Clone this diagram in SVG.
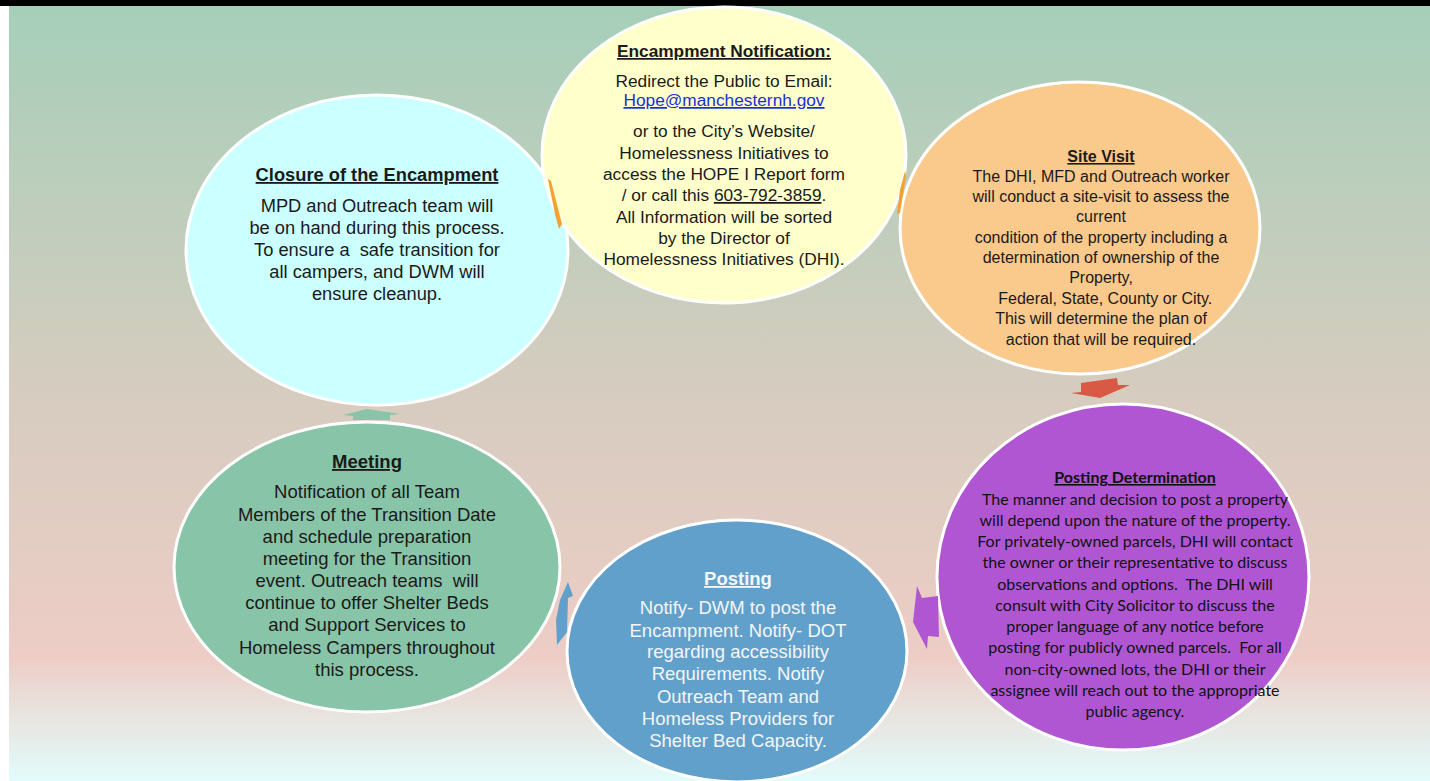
<svg xmlns="http://www.w3.org/2000/svg" width="1430" height="781" viewBox="0 0 1430 781">
<defs>
<linearGradient id="bg" x1="0" y1="0" x2="0" y2="1">
<stop offset="0" stop-color="#a5cfb9"/>
<stop offset="0.5" stop-color="#d6ccbf"/>
<stop offset="0.84" stop-color="#edcdc6"/>
<stop offset="0.92" stop-color="#e8e5e0"/>
<stop offset="1" stop-color="#e2fcfc"/>
</linearGradient>
<style>
.node{stroke:#ffffff;stroke-width:3}
.t{font-family:"Liberation Sans",Arial,sans-serif;fill:#1a1a1a;text-anchor:middle}
.c{font-family:Lato,"Liberation Sans",sans-serif;fill:#111111;text-anchor:middle;font-size:16px}
.h{font-weight:bold;text-decoration:underline}
.w{fill:#f4f6f8}
</style>
</defs>
<rect x="0" y="0" width="1430" height="781" fill="#ffffff"/>
<rect x="9" y="6" width="1421" height="775" fill="url(#bg)"/>
<rect x="0" y="0" width="1430" height="6" fill="#000000"/>

<g id="closure">
<ellipse class="node" cx="377" cy="250" rx="191" ry="155" fill="#ccffff"/>
<text class="t" font-size="18.3" xml:space="preserve"><tspan class="h" x="377" y="181">Closure of the Encampment</tspan><tspan x="377" y="212">MPD and Outreach team will</tspan><tspan x="377" y="234">be on hand during this process.</tspan><tspan x="377" y="256">To ensure a  safe transition for</tspan><tspan x="377" y="278">all campers, and DWM will</tspan><tspan x="377" y="300">ensure cleanup.</tspan></text>
</g>

<g id="encampment-notification">
<ellipse class="node" cx="724" cy="155" rx="182" ry="148" fill="#ffffcc"/>
<text class="t" font-size="17.3"><tspan class="h" x="724" y="57">Encampment Notification:</tspan><tspan x="724" y="87">Redirect the Public to Email:</tspan><tspan x="724" y="106" fill="#1c2fd8" text-decoration="underline">Hope@manchesternh.gov</tspan><tspan x="724" y="137">or to the City’s Website/</tspan><tspan x="724" y="159">Homelessness Initiatives to</tspan><tspan x="724" y="180">access the HOPE I Report form</tspan><tspan x="724" y="201">/ or call this <tspan text-decoration="underline">603-792-3859</tspan>.</tspan><tspan x="724" y="223">All Information will be sorted</tspan><tspan x="724" y="244">by the Director of</tspan><tspan x="724" y="265">Homelessness Initiatives (DHI).</tspan></text>
</g>

<g id="site-visit">
<ellipse class="node" cx="1080" cy="228" rx="180" ry="146" fill="#fac98c"/>
<text class="t" font-size="16"><tspan class="h" x="1101" y="162">Site Visit</tspan><tspan x="1101" y="182">The DHI, MFD and Outreach worker</tspan><tspan x="1101" y="202">will conduct a site-visit to assess the</tspan><tspan x="1101" y="222">current</tspan><tspan x="1101" y="243">condition of the property including a</tspan><tspan x="1101" y="263">determination of ownership of the</tspan><tspan x="1101" y="283">Property,</tspan><tspan x="1103" y="304"> Federal, State, County or City.</tspan><tspan x="1101" y="324">This will determine the plan of</tspan><tspan x="1101" y="345">action that will be required.</tspan></text>
</g>

<g id="posting-determination">
<ellipse class="node" cx="1123" cy="577" rx="186" ry="173" fill="#b056d2"/>
<text class="c" xml:space="preserve"><tspan class="h" x="1135" y="483">Posting Determination</tspan><tspan x="1135" y="505">The manner and decision to post a property</tspan><tspan x="1135" y="526">will depend upon the nature of the property.</tspan><tspan x="1135" y="547">For privately-owned parcels, DHI will contact</tspan><tspan x="1135" y="568">the owner or their representative to discuss</tspan><tspan x="1135" y="590">observations and options.  The DHI will</tspan><tspan x="1135" y="611">consult with City Solicitor to discuss the</tspan><tspan x="1135" y="632">proper language of any notice before</tspan><tspan x="1135" y="653">posting for publicly owned parcels.  For all</tspan><tspan x="1135" y="675">non-city-owned lots, the DHI or their</tspan><tspan x="1135" y="696">assignee will reach out to the appropriate</tspan><tspan x="1135" y="717">public agency.</tspan></text>
</g>

<g id="posting">
<ellipse class="node" cx="737" cy="651" rx="170" ry="131" fill="#62a0cc"/>
<text class="t w" font-size="18.5"><tspan class="h" x="738" y="585">Posting</tspan><tspan x="738" y="614">Notify- DWM to post the</tspan><tspan x="738" y="637">Encampment. Notify- DOT</tspan><tspan x="738" y="658">regarding accessibility</tspan><tspan x="738" y="680">Requirements. Notify</tspan><tspan x="738" y="703">Outreach Team and</tspan><tspan x="738" y="725">Homeless Providers for</tspan><tspan x="738" y="747">Shelter Bed Capacity.</tspan></text>
</g>

<g id="meeting">
<ellipse class="node" cx="367" cy="567" rx="193" ry="145" fill="#88c5a8"/>
<text class="t" font-size="18.5" xml:space="preserve"><tspan class="h" x="367" y="468">Meeting</tspan><tspan x="367" y="498">Notification of all Team</tspan><tspan x="367" y="521">Members of the Transition Date</tspan><tspan x="367" y="543">and schedule preparation</tspan><tspan x="367" y="565">meeting for the Transition</tspan><tspan x="367" y="587">event. Outreach teams  will</tspan><tspan x="367" y="609">continue to offer Shelter Beds</tspan><tspan x="367" y="631">and Support Services to</tspan><tspan x="367" y="654">Homeless Campers throughout</tspan><tspan x="367" y="676">this process.</tspan></text>
</g>

<g id="connectors">
<polygon points="548,179 551,181 562,224 559,229 555,214" fill="#f5a032"/>
<polygon points="905,171 906,176 900,213 897,214 900,190" fill="#f5a032"/>
<polygon points="1081,383 1117,378 1118,385 1130,385 1100,398 1071,393 1081,392" fill="#d95a44"/>
<polygon points="917,586 922,598 938,596 939,637 928,636 927,649 913,622" fill="#b056d2"/>
<polygon points="568,582 573,596 568,598 567,632 557,645 556,620 560,600" fill="#62a0cc"/>
<polygon points="343,415 367,409 400,414 390,415 390,420 353,420 353,416" fill="#88c5a8"/>
</g>
</svg>
